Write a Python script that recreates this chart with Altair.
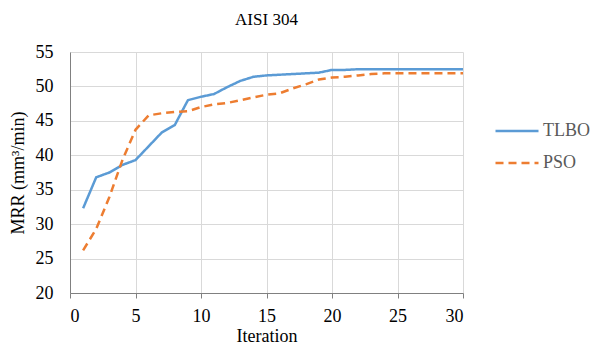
import altair as alt
import pandas as pd

iterations = list(range(1, 31))
tlbo = [32.3, 36.8, 37.5, 38.6, 39.3, 41.3, 43.3, 44.4, 48.0, 48.5,
        48.9, 49.9, 50.8, 51.4, 51.6, 51.7, 51.8, 51.9, 52.0, 52.4,
        52.4, 52.5, 52.5, 52.5, 52.5, 52.5, 52.5, 52.5, 52.5, 52.5]
pso = [26.2, 29.3, 33.9, 39.3, 43.7, 45.8, 46.1, 46.3, 46.4, 47.0,
       47.4, 47.6, 48.0, 48.4, 48.8, 49.0, 49.7, 50.3, 51.0, 51.3,
       51.4, 51.6, 51.8, 51.9, 51.9, 51.9, 51.9, 51.9, 51.9, 51.9]
series = ["TLBO", "PSO"]
colors = ["#5B9BD5", "#ED7D31"]

df = pd.concat([
    pd.DataFrame({"Iteration": iterations, "MRR": tlbo, "Series": "TLBO"}),
    pd.DataFrame({"Iteration": iterations, "MRR": pso, "Series": "PSO"}),
])

font = "'Liberation Serif', 'Times New Roman', serif"

chart = alt.Chart(df).mark_line(strokeWidth=2.5).encode(
    x=alt.X("Iteration:Q", scale=alt.Scale(domain=[0, 30], nice=False),
            axis=alt.Axis(values=[0, 5, 10, 15, 20, 25, 30], title="Iteration",
                          labelFont=font, labelFontSize=18, labelColor="#000000",
                          titleFont=font, titleFontSize=18, titleFontWeight="normal",
                          titleColor="#000000", labelPadding=9, titlePadding=2,
                          tickSize=5, tickColor="#808080", domainColor="#808080",
                          gridColor="#D9D9D9")),
    y=alt.Y("MRR:Q", scale=alt.Scale(domain=[20, 55], nice=False, zero=False),
            axis=alt.Axis(values=[20, 25, 30, 35, 40, 45, 50, 55], title="MRR (mm³/min)",
                          labelFont=font, labelFontSize=18, labelColor="#000000",
                          titleFont=font, titleFontSize=18, titleFontWeight="normal",
                          titleColor="#000000", labelPadding=17, titlePadding=8,
                          ticks=False, domainColor="#808080", gridColor="#D9D9D9")),
    color=alt.Color("Series:N", scale=alt.Scale(domain=series, range=colors),
                    legend=alt.Legend(title=None, orient="none", legendX=424, legendY=56,
                                      symbolType="stroke", symbolSize=1849,
                                      symbolStrokeWidth=2.5, labelFont=font,
                                      labelFontSize=18, labelColor="#595959",
                                      rowPadding=-8, labelOffset=3)),
    strokeDash=alt.StrokeDash("Series:N",
                              scale=alt.Scale(domain=series, range=[[1, 0], [8, 5]]),
                              legend=None),
).properties(
    width=393, height=241,
    title=alt.TitleParams("AISI 304", font=font, fontSize=17, fontWeight="normal",
                          color="#000000", offset=14),
    autosize=alt.AutoSizeParams(type="none"),
    padding={"left": 62, "top": 44, "right": 130, "bottom": 53},
).configure_view(stroke=None)

chart.save("out.html", embed_options={"renderer": "svg", "actions": False})
